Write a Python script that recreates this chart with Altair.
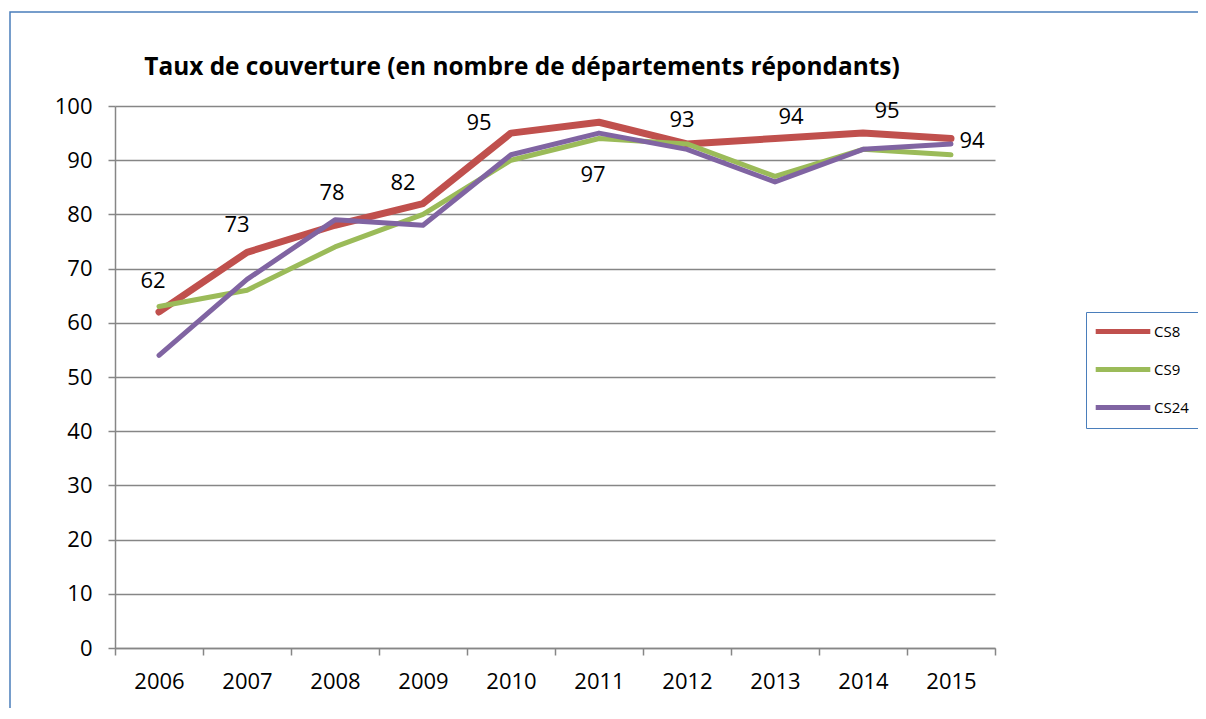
import altair as alt
import pandas as pd

YEARS = ["2006", "2007", "2008", "2009", "2010", "2011", "2012", "2013", "2014", "2015"]
CS8 = [62, 73, 78, 82, 95, 97, 93, 94, 95, 94]
CS9 = [63, 66, 74, 80, 90, 94, 93, 87, 92, 91]
CS24 = [54, 68, 79, 78, 91, 95, 92, 86, 92, 93]
SERIES = ["CS8", "CS9", "CS24"]
COLORS = ["#C0504D", "#9BBB59", "#8064A2"]
WIDTHS = [7, 5, 5]
TITLE = "Taux de couverture (en nombre de départements répondants)"

# pixel offsets of the CS8 data labels (style only)
LABEL_DX = [-6, -10, -3, -20, -32, -6, -5, 16, 24, 21]
LABEL_DY = [-31, -27, -32, -21, -10, 53, -24, -22, -22, 2]

FONT = "Open Sans"

rows = []
for s, vals in zip(SERIES, [CS8, CS9, CS24]):
    for y, v in zip(YEARS, vals):
        rows.append({"year": y, "value": v, "series": s})
df = pd.DataFrame(rows)

xenc = alt.X("year:O", title=None, bandPosition=0.5,
             scale=alt.Scale(type="band", paddingInner=0, paddingOuter=0),
             axis=alt.Axis(labelAngle=0, grid=False, tickBand="extent"))
yenc = alt.Y("value:Q", title=None,
             scale=alt.Scale(domain=[0, 100], nice=False),
             axis=alt.Axis(values=list(range(0, 101, 10)), grid=True))

layers = []
border = alt.Chart(alt.Data(values=[{}])).mark_rect(
    filled=False, stroke="#4A7EBB", strokeWidth=1.5
).encode(x=alt.value(-105), x2=alt.value(1300), y=alt.value(-94), y2=alt.value(700))
layers.append(border)

title = alt.Chart(alt.Data(values=[{"t": TITLE}])).mark_text(
    font=FONT, fontSize=24.4, fontWeight="bold", color="black", align="center", baseline="middle"
).encode(x=alt.value(407), y=alt.value(-38), text="t:N")
layers.append(title)

for s, c, w in zip(SERIES, COLORS, WIDTHS):
    layers.append(
        alt.Chart(df[df.series == s]).mark_line(strokeWidth=w, strokeCap="round", strokeJoin="round")
        .encode(
            x=xenc, y=yenc,
            color=alt.Color("series:N", scale=alt.Scale(domain=SERIES, range=COLORS),
                            legend=alt.Legend(title=None, orient="none", legendX=971, legendY=206,
                                              symbolType="M-1.4,0L6.4,0", symbolSize=196,
                                              symbolStrokeWidth=5, labelFontSize=15,
                                              labelFont=FONT, labelColor="black",
                                              labelOffset=39, rowPadding=17,
                                              padding=10, strokeColor="#4A7EBB",
                                              fillColor="white")),
        )
    )

red = df[df.series == "CS8"]
for i, yr in enumerate(YEARS):
    layers.append(
        alt.Chart(red[red.year == yr]).mark_text(
            dx=LABEL_DX[i], dy=LABEL_DY[i], fontSize=22, font=FONT, color="black"
        ).encode(x=xenc, y=yenc, text="value:Q")
    )

chart = alt.layer(*layers).properties(
    width=880, height=542,
    autosize=alt.AutoSizeParams(type="none"),
    padding={"left": 107, "top": 98, "right": 203, "bottom": 60},
).configure_view(stroke=None).configure_axis(
    labelFont=FONT, labelFontSize=22, labelColor="black",
    domainColor="#868686", domainWidth=1.5, tickColor="#868686", tickWidth=1.5,
    tickSize=7, gridColor="#868686", gridWidth=1.5,
).configure_axisY(labelPadding=16).configure_axisX(labelPadding=16)

chart.save("out.html", embed_options={"renderer": "svg", "actions": False})
